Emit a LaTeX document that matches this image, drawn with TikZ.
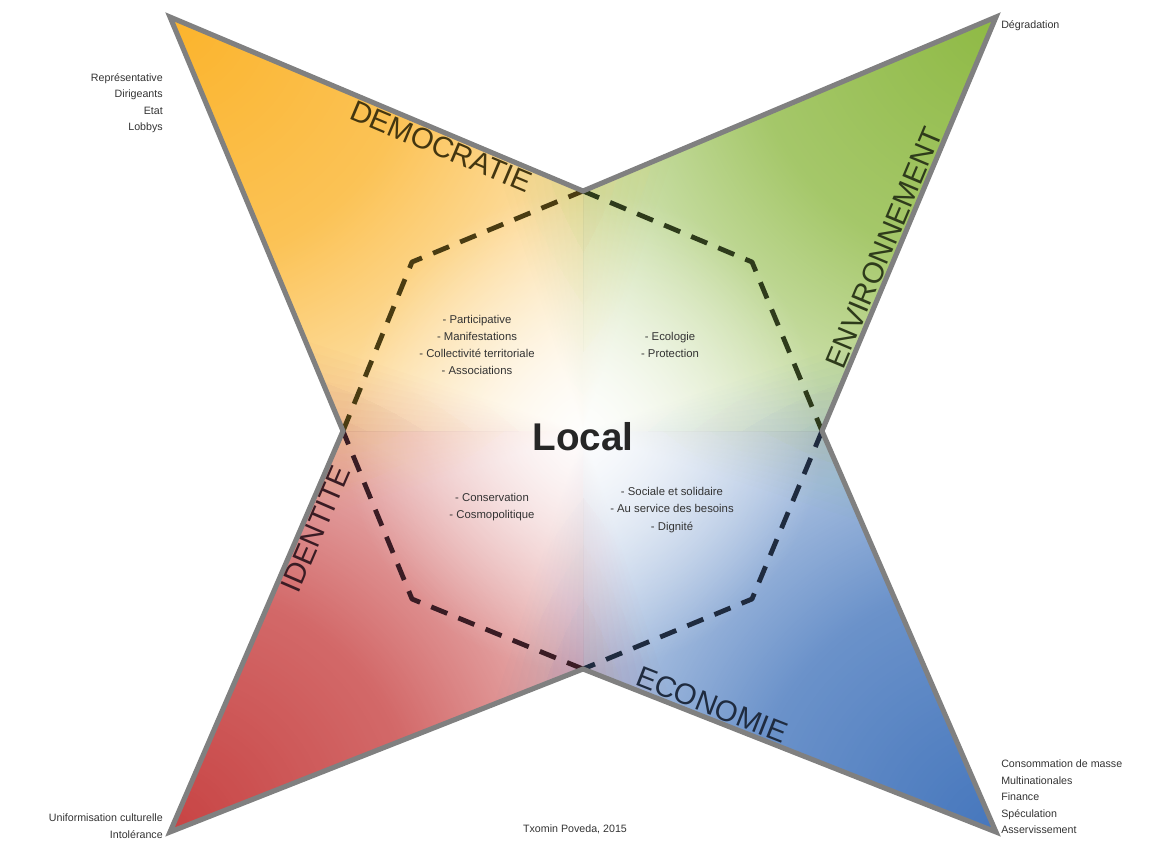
\documentclass[tikz,border=0pt]{standalone}
\usepackage{fontspec}
\setmainfont{Liberation Sans}
\usetikzlibrary{fadings,calc}
\definecolor{orTip}{HTML}{FBB42C}
\definecolor{grTip}{HTML}{8FBA45}
\definecolor{blTip}{HTML}{4677BD}
\definecolor{rdTip}{HTML}{C84444}
\definecolor{edgegray}{HTML}{808080}
\definecolor{txt}{HTML}{333333}
\definecolor{dBrown}{HTML}{4A3C12}
\definecolor{dGreen}{HTML}{2E3B1B}
\definecolor{dBlue}{HTML}{1F2B3F}
\definecolor{dMaroon}{HTML}{3A1C24}
\pgfdeclareradialshading{tipradial}{\pgfpointorigin}{color(0bp)=(white); color(10bp)=(white!80!black); color(18bp)=(white!38!black); color(23bp)=(white!12!black); color(25bp)=(black); color(50bp)=(black)}
\pgfdeclarefading{tipfade}{\pgfuseshading{tipradial}}
\tikzfading[name=centerfade, inner color=transparent!10, outer color=transparent!100]
\begin{document}
\begin{tikzpicture}[x=0.75pt,y=-0.75pt,
  staredge/.style={draw=edgegray, line width=3.8pt, line join=miter},
  octa/.style={line width=3.6pt, dash pattern=on 13pt off 9pt, line join=round},
  cat/.style={font=\fontsize{22}{22}\selectfont, inner sep=2.5pt},
  small/.style={font=\fontsize{8}{12.4}\selectfont, text=txt, inner sep=0pt},
  inlist/.style={font=\fontsize{8.5}{12.8}\selectfont, text=txt, align=center, inner sep=0pt},
  field/.style={path fading=tipfade}]
\useasboundingbox (0,0) rectangle (1171,843);
% vertices
\coordinate (TLt) at (170,17);
\coordinate (TRt) at (996,17);
\coordinate (BRt) at (996,832);
\coordinate (BLt) at (170,832);
\coordinate (T) at (583,191);
\coordinate (R) at (822,431);
\coordinate (B) at (583,669);
\coordinate (L) at (343,431);
\coordinate (C) at (583,431);
\coordinate (o1) at (412,262);
\coordinate (o2) at (752,262);
\coordinate (o3) at (752,599);
\coordinate (o4) at (412,599);
% fills
\begin{scope}
  \clip (TLt) -- (T) -- (TRt) -- (R) -- (BRt) -- (B) -- (BLt) -- (L) -- cycle;
  % each arm: its own colour, visual angles a1..a2 seen from the centre
  \foreach \aone/\atwo/\tip/\col in {88/182/TLt/orTip, -92/2/BRt/blTip, 0/90/TRt/grTip, 180/270/BLt/rdTip} {
    \begin{scope}
      \clip (C) -- ($(C)+({-\aone}:1000)$) -- ($(C)+({-(\aone+\atwo)/2}:1400)$) -- ($(C)+({-\atwo}:1000)$) -- cycle;
      \fill[white] (TLt) rectangle (BRt);
      \fill[\col, field] (\tip) circle (620);
    \end{scope}
  }
  % soften the seams between neighbouring arms
  \foreach \s/\ptip/\pcol/\qtip/\qcol in {90/TLt/orTip/TRt/grTip, 180/BLt/rdTip/TLt/orTip, 270/BRt/blTip/BLt/rdTip, 360/TRt/grTip/BRt/blTip} {
    \foreach \k in {1,...,10} {
      \begin{scope}
        \clip (C) -- ($(C)+({-\s+\k*1.8}:900)$) -- ($(C)+({-\s}:900)$) -- cycle;
        \fill[\pcol, field, fill opacity=0.067] (\ptip) circle (620);
      \end{scope}
      \begin{scope}
        \clip (C) -- ($(C)+({-\s}:900)$) -- ($(C)+({-\s-\k*1.8}:900)$) -- cycle;
        \fill[\qcol, field, fill opacity=0.067] (\qtip) circle (620);
      \end{scope}
    }
  }
  \fill[white, path fading=centerfade] (C) circle (240);
\end{scope}
% dashed octagon
\draw[octa, dBrown] (L) -- (o1) -- (T);
\draw[octa, dGreen] (T) -- (o2) -- (R);
\draw[octa, dBlue] (R) -- (o3) -- (B);
\draw[octa, dMaroon] (B) -- (o4) -- (L);
% star outline
\draw[staredge] (TLt) -- (T) -- (TRt) -- (R) -- (BRt) -- (B) -- (BLt) -- (L) -- cycle;
% category labels
\path (TLt) -- (T) node[cat, text=dBrown!90!black, pos=0.67, sloped, anchor=north] (demlbl) {DEMOCRATIE};
\path (R) -- (TRt) node[cat, text=dGreen, pos=0.43, sloped, anchor=south] (envlbl) {ENVIRONNEMENT};
\path (B) -- (BRt) node[cat, text=dBlue, pos=0.30, sloped, anchor=south] (ecolbl) {ECONOMIE};
\path (BLt) -- (L) node[cat, text=dMaroon, pos=0.77, sloped, anchor=north] (idlbl) {IDENTITE};
% centre
\node[font=\bfseries\fontsize{29}{29}\selectfont, text=black!85] (local) at (583,437) {Local};
\node[inlist] (demloc) at (477,345) {- Participative\\- Manifestations\\- Collectivité territoriale\\- Associations};
\node[inlist] (envloc) at (670,345) {- Ecologie\\- Protection};
\node[inlist] (idloc) at (492,507) {- Conservation\\- Cosmopolitique};
\node[inlist] (ecoloc) at (672,510) {- Sociale et solidaire\\- Au service des besoins\\- Dignité};
% corner lists
\node[small, anchor=east, align=right] (demlist) at (163,103) {Représentative\\Dirigeants\\Etat\\Lobbys};
\node[small, anchor=west, align=left] (envlist) at (1001,26) {Dégradation};
\node[small, anchor=west, align=left] (ecolist) at (1001,797) {Consommation de masse\\Multinationales\\Finance\\Spéculation\\Asservissement};
\node[small, anchor=east, align=right] (idlist) at (163,826) {Uniformisation culturelle\\Intolérance};
\node[small] (credit) at (575,829) {Txomin Poveda, 2015};
\end{tikzpicture}
\end{document}
